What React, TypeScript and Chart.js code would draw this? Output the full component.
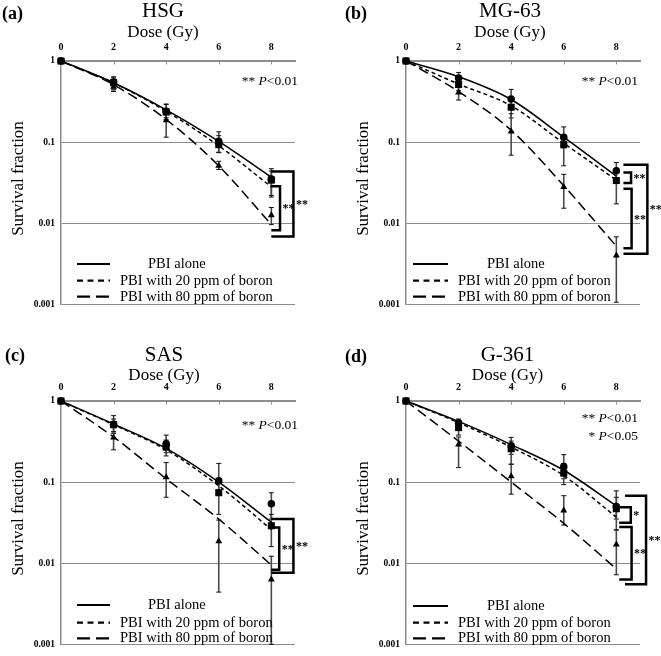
import React, { useEffect, useRef } from 'react';
import { Chart, registerables } from 'chart.js';

Chart.register(...registerables);

const SERIF = '"Liberation Serif", "Times New Roman", Times, serif';

// ---- shared axis values ----
const DOSES = [0, 2, 4, 6, 8];
const X_TICKS = [0, 2, 4, 6, 8];
const Y_TICKS = [1, 0.1, 0.01, 0.001];
const Y_TICK_LABELS = ['1', '0.1', '0.01', '0.001'];
const SERIES_NAMES = ['PBI alone', 'PBI with 20 ppm of boron', 'PBI with 80 ppm of boron'];

// ---- (a) HSG ----
const HSG_ALONE = [1, 0.55, 0.24, 0.102, 0.035];
const HSG_ALONE_LO = [1, 0.45, 0.2, 0.075, 0.021];
const HSG_ALONE_HI = [1, 0.64, 0.295, 0.134, 0.047];
const HSG_B20 = [1, 0.54, 0.235, 0.093, 0.034];
const HSG_B20_LO = [1, 0.44, 0.19, 0.074, 0.022];
const HSG_B20_HI = [1, 0.62, 0.29, 0.12, 0.044];
const HSG_B80 = [1, 0.48, 0.186, 0.051, 0.0125];
const HSG_B80_LO = [1, 0.42, 0.115, 0.046, 0.0096];
const HSG_B80_HI = [1, 0.56, 0.22, 0.058, 0.0156];
const HSG_FIT_ALONE = [1, 0.54, 0.25, 0.102, 0.037];
const HSG_FIT_B20 = [1, 0.536, 0.24, 0.09, 0.028];
const HSG_FIT_B80 = [1, 0.51, 0.19, 0.051, 0.0096];

// ---- (b) MG-63 ----
const MG63_ALONE = [1, 0.618, 0.339, 0.115, 0.0444];
const MG63_ALONE_LO = [1, 0.53, 0.27, 0.085, 0.035];
const MG63_ALONE_HI = [1, 0.723, 0.447, 0.154, 0.056];
const MG63_B20 = [1, 0.514, 0.269, 0.093, 0.0336];
const MG63_B20_LO = [1, 0.43, 0.198, 0.051, 0.0173];
const MG63_B20_HI = [1, 0.6, 0.33, 0.12, 0.045];
const MG63_B80 = [1, 0.408, 0.135, 0.028, 0.004];
const MG63_B80_LO = [1, 0.33, 0.069, 0.0153, 0.00106];
const MG63_B80_HI = [1, 0.49, 0.224, 0.04, 0.0068];
const MG63_FIT_ALONE = [1, 0.64, 0.335, 0.115, 0.038];
const MG63_FIT_B20 = [1, 0.52, 0.28, 0.097, 0.034];
const MG63_FIT_B80 = [1, 0.42, 0.14, 0.029, 0.0052];

// ---- (c) SAS ----
const SAS_ALONE = [1, 0.515, 0.296, 0.104, 0.054];
const SAS_ALONE_LO = [0.93, 0.4, 0.23, 0.075, 0.035];
const SAS_ALONE_HI = [1, 0.66, 0.38, 0.17, 0.074];
const SAS_B20 = [1, 0.51, 0.27, 0.074, 0.029];
const SAS_B20_LO = [0.93, 0.4, 0.21, 0.04, 0.016];
const SAS_B20_HI = [1, 0.6, 0.33, 0.11, 0.04];
const SAS_B80 = [1, 0.356, 0.115, 0.0186, 0.0063];
const SAS_B80_LO = [0.93, 0.25, 0.065, 0.0044, 0.001];
const SAS_B80_HI = [1, 0.42, 0.174, 0.034, 0.0122];
const SAS_FIT_ALONE = [1, 0.52, 0.26, 0.1, 0.032];
const SAS_FIT_B20 = [1, 0.51, 0.25, 0.09, 0.026];
const SAS_FIT_B80 = [1, 0.36, 0.11, 0.035, 0.0095];

// ---- (d) G-361 ----
const G361_ALONE = [1, 0.54, 0.28, 0.155, 0.05];
const G361_ALONE_LO = [0.93, 0.45, 0.22, 0.11, 0.035];
const G361_ALONE_HI = [1, 0.6, 0.356, 0.218, 0.078];
const G361_B20 = [1, 0.47, 0.258, 0.129, 0.047];
const G361_B20_LO = [0.93, 0.38, 0.166, 0.093, 0.0257];
const G361_B20_HI = [1, 0.55, 0.32, 0.17, 0.065];
const G361_B80 = [1, 0.29, 0.118, 0.0446, 0.017];
const G361_B80_LO = [0.93, 0.151, 0.071, 0.0295, 0.0072];
const G361_B80_HI = [1, 0.36, 0.166, 0.068, 0.0257];
const G361_FIT_ALONE = [1, 0.56, 0.29, 0.14, 0.051];
const G361_FIT_B20 = [1, 0.54, 0.27, 0.12, 0.037];
const G361_FIT_B80 = [1, 0.32, 0.1, 0.031, 0.0085];

// ---- significance brackets (dose, survival fraction) ----
const HSG_BRACKETS = [
  { x0: 8.0, x1: 8.33, top: 0.0285, bottom: 0.0082, label: '**' },
  { x0: 8.0, x1: 8.84, top: 0.0435, bottom: 0.00684, label: '**' },
];
const MG63_BRACKETS = [
  { x0: 8.27, x1: 8.56, top: 0.0423, bottom: 0.0312, label: '**' },
  { x0: 8.27, x1: 8.58, top: 0.0266, bottom: 0.0049, label: '**' },
  { x0: 8.27, x1: 9.18, top: 0.0524, bottom: 0.0042, label: '**' },
];
const SAS_BRACKETS = [
  { x0: 8.0, x1: 8.3, top: 0.0276, bottom: 0.0083, label: '**' },
  { x0: 8.0, x1: 8.84, top: 0.035, bottom: 0.0076, label: '**' },
];
const G361_BRACKETS = [
  { x0: 8.11, x1: 8.55, top: 0.049, bottom: 0.0316, label: '*' },
  { x0: 8.11, x1: 8.58, top: 0.028, bottom: 0.0063, label: '**' },
  { x0: 8.33, x1: 9.13, top: 0.068, bottom: 0.0055, label: '**' },
];

const P_NOTES_ONE = [{ stars: '**', p: '0.01' }];
const P_NOTES_TWO = [{ stars: '**', p: '0.01' }, { stars: '*', p: '0.05' }];

const POINT_STYLES = ['circle', 'rect', 'triangle'];
const POINT_RADII = [3.8, 5, 4];
const DASHES = [[], [4, 3], [10, 5]];
const LEGEND_DASHES = [[], [6, 4.5], [13, 6]];

type Series = { mean: number[]; lo: number[]; hi: number[]; fit: number[] };

const PANELS = [
  {
    key: 'a', label: '(a)', title: 'HSG', left: 0, top: 0,
    labelX: 2, labelY: 14, titleX: 163, titleY: 11.5, doseY: 33, tickPad: 8,
    legX0: 77, legX1: 110, legText: 120, legAlone: 148, legY: [264, 280.7, 296.7],
    pRight: 298, pY: [81], notes: P_NOTES_ONE, brackets: HSG_BRACKETS,
    series: [
      { mean: HSG_ALONE, lo: HSG_ALONE_LO, hi: HSG_ALONE_HI, fit: HSG_FIT_ALONE },
      { mean: HSG_B20, lo: HSG_B20_LO, hi: HSG_B20_HI, fit: HSG_FIT_B20 },
      { mean: HSG_B80, lo: HSG_B80_LO, hi: HSG_B80_HI, fit: HSG_FIT_B80 },
    ] as Series[],
  },
  {
    key: 'b', label: '(b)', title: 'MG-63', left: 345, top: 0,
    labelX: 0, labelY: 14, titleX: 165, titleY: 11.5, doseY: 33, tickPad: 8,
    legX0: 68, legX1: 103, legText: 113, legAlone: 142, legY: [264, 280.7, 296.7],
    pRight: 293, pY: [81], notes: P_NOTES_ONE, brackets: MG63_BRACKETS,
    series: [
      { mean: MG63_ALONE, lo: MG63_ALONE_LO, hi: MG63_ALONE_HI, fit: MG63_FIT_ALONE },
      { mean: MG63_B20, lo: MG63_B20_LO, hi: MG63_B20_HI, fit: MG63_FIT_B20 },
      { mean: MG63_B80, lo: MG63_B80_LO, hi: MG63_B80_HI, fit: MG63_FIT_B80 },
    ] as Series[],
  },
  {
    key: 'c', label: '(c)', title: 'SAS', left: 0, top: 340,
    labelX: 5, labelY: 16.7, titleX: 164, titleY: 15.7, doseY: 35.5, tickPad: 8,
    legX0: 77, legX1: 110, legText: 120, legAlone: 148, legY: [265, 282.7, 298.3],
    pRight: 298, pY: [85], notes: P_NOTES_ONE, brackets: SAS_BRACKETS,
    series: [
      { mean: SAS_ALONE, lo: SAS_ALONE_LO, hi: SAS_ALONE_HI, fit: SAS_FIT_ALONE },
      { mean: SAS_B20, lo: SAS_B20_LO, hi: SAS_B20_HI, fit: SAS_FIT_B20 },
      { mean: SAS_B80, lo: SAS_B80_LO, hi: SAS_B80_HI, fit: SAS_FIT_B80 },
    ] as Series[],
  },
  {
    key: 'd', label: '(d)', title: 'G-361', left: 345, top: 340,
    labelX: 0, labelY: 17.5, titleX: 162.5, titleY: 15.7, doseY: 35.5, tickPad: 8,
    legX0: 68, legX1: 103, legText: 113, legAlone: 142, legY: [266, 282.7, 298.3],
    pRight: 293, pY: [78.3, 96], notes: P_NOTES_TWO, brackets: G361_BRACKETS,
    series: [
      { mean: G361_ALONE, lo: G361_ALONE_LO, hi: G361_ALONE_HI, fit: G361_FIT_ALONE },
      { mean: G361_B20, lo: G361_B20_LO, hi: G361_B20_HI, fit: G361_FIT_B20 },
      { mean: G361_B80, lo: G361_B80_LO, hi: G361_B80_HI, fit: G361_FIT_B80 },
    ] as Series[],
  },
];

type PanelCfg = typeof PANELS[number];

const CANVAS_W = 316;
const CANVAS_H = 316;

function makePlugin(p: PanelCfg) {
  return {
    id: 'panelDecor' + p.key,
    beforeDatasetsDraw(chart: any) {
      const ctx = chart.ctx as CanvasRenderingContext2D;
      const xs = chart.scales.x;
      const ys = chart.scales.y;
      ctx.save();
      p.series.forEach((s) => {
        DOSES.forEach((d, i) => {
          const lo = Math.max(s.lo[i], 0.001);
          const hi = s.hi[i];
          if (hi / lo < 1.001) return;
          const x = xs.getPixelForValue(d);
          const y1 = ys.getPixelForValue(lo);
          const y2 = ys.getPixelForValue(hi);
          ctx.strokeStyle = '#4a4a4a';
          ctx.lineWidth = 1.6;
          ctx.beginPath();
          ctx.moveTo(x, y1);
          ctx.lineTo(x, y2);
          ctx.stroke();
          ctx.strokeStyle = '#111';
          ctx.lineWidth = 1;
          ctx.beginPath();
          ctx.moveTo(x - 2.5, y1);
          ctx.lineTo(x + 2.5, y1);
          ctx.moveTo(x - 2.5, y2);
          ctx.lineTo(x + 2.5, y2);
          ctx.stroke();
        });
      });
      ctx.restore();
    },
    afterDraw(chart: any) {
      const ctx = chart.ctx as CanvasRenderingContext2D;
      const xs = chart.scales.x;
      const ys = chart.scales.y;
      const area = chart.chartArea;
      ctx.save();
      ctx.fillStyle = '#000';
      ctx.textBaseline = 'middle';

      // panel letter
      ctx.font = `bold 18px ${SERIF}`;
      ctx.textAlign = 'left';
      ctx.fillText(p.label, p.labelX, p.labelY);

      // title & axis title
      ctx.textAlign = 'center';
      ctx.font = `21px ${SERIF}`;
      ctx.fillText(p.title, p.titleX, p.titleY);
      ctx.font = `17px ${SERIF}`;
      ctx.fillText('Dose (Gy)', p.titleX, p.doseY);

      // y title
      ctx.save();
      ctx.translate(19, 178.5);
      ctx.rotate(-Math.PI / 2);
      ctx.font = `17px ${SERIF}`;
      ctx.fillText('Survival fraction', 0, 0);
      ctx.restore();

      // inner tick marks on top axis
      ctx.strokeStyle = '#8c8c8c';
      ctx.lineWidth = 1;
      X_TICKS.forEach((v) => {
        if (v === 0) return;
        const x = Math.round(xs.getPixelForValue(v)) + 0.5;
        ctx.beginPath();
        ctx.moveTo(x, area.top);
        ctx.lineTo(x, area.top + 3.5);
        ctx.stroke();
      });

      // p-value notes
      p.notes.forEach((n, k) => {
        const normal = `13.5px ${SERIF}`;
        const italic = `italic 13.5px ${SERIF}`;
        const parts: [string, string][] = [[n.stars + ' ', normal], ['P', italic], ['<' + n.p, normal]];
        let w = 0;
        parts.forEach(([t, f]) => { ctx.font = f; w += ctx.measureText(t).width; });
        let x = p.pRight - w;
        ctx.textAlign = 'left';
        parts.forEach(([t, f]) => { ctx.font = f; ctx.fillText(t, x, p.pY[k]); x += ctx.measureText(t).width; });
      });

      // brackets
      ctx.strokeStyle = '#000';
      ctx.lineWidth = 2.5;
      ctx.lineJoin = 'miter';
      p.brackets.forEach((b) => {
        const x0 = xs.getPixelForValue(b.x0);
        const x1 = xs.getPixelForValue(b.x1);
        const yt = ys.getPixelForValue(b.top);
        const yb = ys.getPixelForValue(b.bottom);
        ctx.beginPath();
        ctx.moveTo(x0, yt);
        ctx.lineTo(x1, yt);
        ctx.lineTo(x1, yb);
        ctx.lineTo(x0, yb);
        ctx.stroke();
        ctx.font = `bold 12px ${SERIF}`;
        ctx.textAlign = 'left';
        ctx.fillText(b.label, x1 + 2.5, (yt + yb) / 2 + 1);
      });

      // legend
      SERIES_NAMES.forEach((name, i) => {
        const y = p.legY[i];
        ctx.strokeStyle = '#000';
        ctx.lineWidth = 2.2;
        ctx.setLineDash(LEGEND_DASHES[i]);
        ctx.beginPath();
        ctx.moveTo(p.legX0, y);
        ctx.lineTo(p.legX1, y);
        ctx.stroke();
        ctx.setLineDash([]);
        ctx.font = `14.5px ${SERIF}`;
        ctx.textAlign = 'left';
        ctx.fillText(name, i === 0 ? p.legAlone : p.legText, y);
      });

      ctx.restore();
    },
  };
}

function Panel({ cfg }: { cfg: PanelCfg }) {
  const ref = useRef<HTMLCanvasElement | null>(null);
  useEffect(() => {
    if (!ref.current) return;
    const pointSets = cfg.series.map((s, i) => ({
      label: SERIES_NAMES[i],
      data: DOSES.map((d, j) => ({ x: d, y: s.mean[j] })),
      showLine: false,
      pointStyle: POINT_STYLES[i],
      pointRadius: POINT_RADII[i],
      pointBackgroundColor: '#000',
      pointBorderColor: '#000',
      pointBorderWidth: 0,
      borderColor: '#000',
      backgroundColor: '#000',
      clip: false,
    }));
    const curveSets = cfg.series.map((s, i) => ({
      label: SERIES_NAMES[i] + ' fit',
      data: DOSES.map((d, j) => ({ x: d, y: s.fit[j] })),
      showLine: true,
      borderColor: '#000',
      borderWidth: 1.5,
      borderDash: DASHES[i],
      pointRadius: 0,
      cubicInterpolationMode: 'monotone',
      fill: false,
      clip: false,
    }));
    const chart = new Chart(ref.current, {
      type: 'line',
      data: { datasets: [...pointSets, ...curveSets] as any },
      plugins: [makePlugin(cfg)],
      options: {
        responsive: false,
        animation: false,
        devicePixelRatio: 1,
        layout: { padding: { left: 0, top: 0, right: 21, bottom: 6 } },
        plugins: {
          legend: { display: false },
          tooltip: { enabled: false },
          title: { display: false },
        },
        scales: {
          x: {
            type: 'linear',
            position: 'top',
            min: 0,
            max: 8.9,
            afterBuildTicks: (s: any) => { s.ticks = X_TICKS.map((v) => ({ value: v })); },
            afterFit: (s: any) => { s.height = 61; },
            grid: { drawOnChartArea: false, drawTicks: false },
            border: { display: true, color: '#8c8c8c', width: 2 },
            ticks: {
              color: '#000',
              font: { family: SERIF, size: 10, weight: 'bold' },
              padding: cfg.tickPad,
              maxRotation: 0,
              autoSkip: false,
              callback: (v: any) => String(v),
            },
          },
          y: {
            type: 'logarithmic',
            min: 0.001,
            max: 1,
            afterBuildTicks: (s: any) => { s.ticks = Y_TICKS.map((v) => ({ value: v })); },
            afterFit: (s: any) => { s.width = 61; },
            grid: { color: '#8c8c8c', lineWidth: 1, drawTicks: false },
            border: { display: true, color: '#8c8c8c', width: 1.5 },
            ticks: {
              color: '#000',
              font: { family: SERIF, size: 9.5, weight: 'bold' },
              padding: 6,
              autoSkip: false,
              callback: (v: any) => {
                const idx = Y_TICKS.findIndex((t) => Math.abs(t - Number(v)) < t * 1e-6);
                return idx >= 0 ? Y_TICK_LABELS[idx] : '';
              },
            },
          },
        },
      } as any,
    });
    return () => chart.destroy();
  }, [cfg]);
  return (
    <canvas
      ref={ref}
      width={CANVAS_W}
      height={CANVAS_H}
      style={{ position: 'absolute', left: cfg.left, top: cfg.top, width: CANVAS_W, height: CANVAS_H }}
    />
  );
}

export default function App() {
  return (
    <div style={{ position: 'absolute', left: 0, top: 0, width: 661, height: 656, background: '#fff' }}>
      {PANELS.map((p) => (
        <Panel key={p.key} cfg={p} />
      ))}
    </div>
  );
}
